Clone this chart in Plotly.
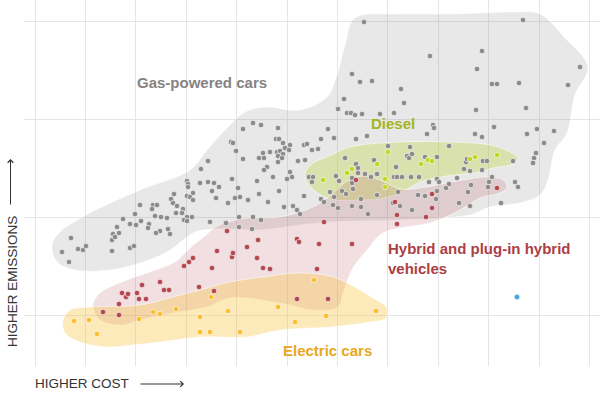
import plotly.graph_objects as go

# ---- data (cost index, emissions index) ----
gas_cost = [27, 34, 36, 43, 48, 51, 77, 77, 78, 80, 82, 84, 88, 95, 101, 106, 114, 113, 95, 99,
            105, 118, 122, 117, 100, 120, 126, 132, 133, 125, 121, 135, 141, 139, 136, 138, 142, 148,
            152, 153, 153, 165, 173, 179, 184, 177, 158, 152, 155, 158, 181, 166, 173, 147, 152, 157,
            149, 152, 175, 191, 193,
            208, 218, 226, 243, 196, 198, 201, 208, 241, 244, 248, 255, 250, 228, 235, 242, 245, 248,
            254, 243, 247, 224, 229, 243, 263, 232, 229, 255, 257, 252, 238, 222, 197, 203, 244, 224,
            200, 205, 213, 233, 204, 218, 226, 204, 217, 249, 258, 262, 265,
            303, 293, 299, 286, 269, 272, 277, 283, 270, 274, 278, 277, 301, 304, 269, 295, 299, 286,
            289, 298, 303, 309, 312, 316, 320, 317, 325, 329, 321, 310, 321, 323, 317, 323, 330, 336,
            342, 317, 307, 311, 318, 326, 317, 326, 333, 337, 327, 345, 359,
            366, 369, 395, 332, 339, 353, 375, 372, 374, 377, 390, 402, 361, 359, 362, 367, 376, 384,
            392, 398, 399, 414, 402, 404, 394, 414, 411, 422, 363, 342, 383, 390, 402, 401, 365, 358,
            377, 424,
            488, 447, 442, 545, 457, 462, 484, 533, 441, 491, 459, 440, 447, 502, 519, 492, 509, 501,
            499, 498, 478, 431, 432, 448, 452, 429, 435, 447, 457, 454, 453, 436, 433, 480, 483, 435,
            466]
gas_emis = [63, 53, 77, 66, 65, 69, 64, 75, 81, 78, 88, 82, 96, 91, 90, 94, 91, 87, 67, 69,
            110, 110, 110, 106, 101, 99, 98, 97, 86, 84, 82, 81, 102, 121, 116, 112, 109, 106,
            134, 131, 128, 132, 133, 132, 128, 124, 122, 119, 118, 115, 117, 146, 154, 102, 98, 98,
            95, 94, 93, 92, 112,
            186, 192, 190, 187, 173, 172, 164, 156, 176, 176, 172, 170, 167, 162, 163, 163, 164, 161,
            165, 159, 157, 157, 157, 153, 154, 148, 145, 143, 138, 136, 138, 134, 136, 127, 124, 121,
            117, 118, 115, 113, 98, 98, 95, 88, 86, 108, 109, 105, 101,
            206, 186, 177, 176, 170, 171, 165, 166, 155, 138, 138, 133, 139, 134, 119, 123, 118, 116,
            113, 110, 107, 216, 202, 202, 200, 241, 233, 293, 176, 157, 151, 147, 137, 142, 141, 138,
            141, 132, 124, 121, 126, 116, 109, 108, 101, 234, 201, 201, 202,
            226, 212, 259, 179, 155, 169, 168, 159, 157, 161, 158, 158, 148, 138, 138, 138, 138, 138,
            181, 190, 187, 169, 136, 133, 133, 131, 127, 137, 123, 120, 120, 119, 124, 116, 109, 112,
            105, 112,
            295, 264, 246, 248, 231, 231, 232, 230, 205, 207, 188, 181, 178, 186, 184, 181, 172, 162,
            157, 152, 154, 153, 156, 154, 154, 146, 144, 145, 138, 133, 128, 130, 123, 133, 128, 109,
            112]

hybrid_cost = [68, 84, 84, 87, 91, 93, 102, 104, 111, 107, 125, 129, 134, 164, 179, 149, 154, 158,
               177, 182, 197, 198, 192, 212, 223, 222, 228, 235, 262, 264, 262, 284, 282, 289, 317,
               293, 321, 360, 362, 362, 391, 397, 397, 462]
hybrid_emis = [3, 11, 0, 22, 18, 21, 22, 16, 16, 30, 33, 25, 25, 28, 24, 49, 53, 57,
               47, 64, 58, 62, 84, 68, 75, 57, 47, 46, 76, 73, 16, 71, 46, 93, 71,
               16, 135, 113, 100, 91, 98, 121, 107, 127]

diesel_cost = [288, 312, 317, 342, 353, 350, 350, 386, 393, 397, 435, 440, 462]
diesel_emis = [135, 142, 146, 151, 163, 136, 128, 151, 155, 154, 156, 158, 160]

electric_cost = [39, 54, 62, 104, 118, 125, 141, 165, 165, 175, 176, 193, 205, 243, 260, 279, 291, 341]
electric_emis = [-6, -5, -19, -4, 3, 1, 6, -2, -17, -17, 18, 4, -17, 8, -7, 35, -1, 4]

other_cost = [482]
other_emis = [18]

# ---- group outlines (same index units) ----
gas_area_cost = [17, 25, 55, 105, 155, 172, 192, 210, 230, 265, 292, 302, 310, 320, 365, 415, 482, 505,
                 530, 553, 540, 532, 520, 513, 505, 485, 455, 435, 405, 365, 295, 265, 225, 178, 160,
                 148, 132, 105, 75, 40, 22]
gas_area_emis = [70, 83, 102, 125, 145, 165, 187, 203, 208, 205, 218, 240, 270, 297, 301, 301, 303, 301,
                 277, 248, 220, 182, 165, 135, 120, 112, 108, 100, 97, 95, 93, 90, 85, 86, 83,
                 75, 63, 52, 45, 45, 53]

hybrid_area_cost = [58, 65, 92, 115, 140, 155, 170, 182, 212, 245, 278, 295, 312, 328, 345, 365, 385, 428,
                    452, 468, 472, 465, 445, 425, 398, 348, 332, 318, 308, 303, 278, 245, 195, 172, 138,
                    105, 88, 65]
hybrid_area_emis = [10, 22, 35, 43, 53, 67, 79, 89, 97, 98, 108, 119, 134, 139, 135, 126, 127, 135,
                    138, 135, 128, 122, 117, 105, 93, 82, 65, 47, 22, 8, 5, 12, 17, 8, 2,
                    -5, -10, -5]

diesel_area_cost = [270, 278, 292, 315, 365, 415, 455, 475, 483, 478, 458, 445, 412, 385, 365, 345, 328,
                    295, 280, 272]
diesel_area_emis = [142, 152, 158, 168, 173, 173, 170, 163, 157, 151, 147, 143, 139, 133, 122, 116, 115,
                    116, 124, 133]

electric_area_cost = [28, 35, 55, 105, 138, 165, 195, 228, 262, 295, 312, 338, 352, 351, 335, 295, 245,
                      212, 165, 125, 98, 72, 45, 30]
electric_area_emis = [-5, 5, 8, 10, 18, 25, 33, 38, 42, 39, 32, 17, 7, -3, -7, -12, -15,
                      -22, -22, -27, -30, -32, -27, -18]

FONT = "Liberation Sans, Arial, sans-serif"

fig = go.Figure()


def area(xs, ys, fill):
    fig.add_trace(go.Scatter(
        x=xs + xs[:1], y=ys + ys[:1], mode="lines", fill="toself",
        fillcolor=fill, line=dict(shape="spline", smoothing=1.0, width=1,
                                  color="rgba(255,255,255,0.55)"),
        hoverinfo="skip", showlegend=False))


area(gas_area_cost, gas_area_emis, "rgba(150,150,150,0.22)")
area(diesel_area_cost, diesel_area_emis, "rgba(190,215,60,0.35)")
area(hybrid_area_cost, hybrid_area_emis, "rgba(180,80,90,0.18)")
area(electric_area_cost, electric_area_emis, "rgba(250,195,60,0.35)")


def dots(xs, ys, color):
    fig.add_trace(go.Scatter(
        x=xs, y=ys, mode="markers",
        marker=dict(size=5.5, color=color, line=dict(width=0.6, color="white")),
        showlegend=False, hoverinfo="skip"))


dots(gas_cost, gas_emis, "rgb(143,138,138)")
dots(hybrid_cost, hybrid_emis, "rgb(180,72,80)")
dots(diesel_cost, diesel_emis, "rgb(192,214,42)")
dots(electric_cost, electric_emis, "rgb(250,190,48)")
dots(other_cost, other_emis, "rgb(64,165,225)")

labels = [
    dict(x=167, y=233, text="Gas-powered cars", color="rgb(135,130,130)", xanchor="center"),
    dict(x=358, y=192, text="Diesel", color="rgb(163,182,30)", xanchor="center"),
    dict(x=351, y=57, text="Hybrid and plug-in hybrid<br>vehicles", color="rgb(172,62,68)", xanchor="left"),
    dict(x=292, y=-35, text="Electric cars", color="rgb(232,168,32)", xanchor="center"),
]
for lb in labels:
    fig.add_annotation(x=lb["x"], y=lb["y"], xref="x", yref="y", text="<b>%s</b>" % lb["text"],
                       showarrow=False, xanchor=lb["xanchor"], yanchor="middle", align="left",
                       font=dict(family=FONT, size=15, color=lb["color"]))

# axis titles with arrows
fig.add_annotation(xref="paper", yref="paper", x=(33 - 24) / 576, y=(366 - 383) / 366,
                   text="HIGHER COST", showarrow=False, xanchor="left", yanchor="middle",
                   font=dict(family=FONT, size=13.5, color="#333"))
fig.add_annotation(xref="paper", yref="paper", x=(184 - 24) / 576, y=(366 - 384) / 366,
                   ax=-45, ay=0, text="", showarrow=True, arrowhead=4, arrowsize=1.1,
                   arrowwidth=1, arrowcolor="#333")
fig.add_annotation(xref="paper", yref="paper", x=(12.5 - 24) / 576, y=(366 - 281.5) / 366,
                   text="HIGHER EMISSIONS", showarrow=False, textangle=-90,
                   xanchor="center", yanchor="middle",
                   font=dict(family=FONT, size=13.5, color="#333"))
fig.add_annotation(xref="paper", yref="paper", x=(10.5 - 24) / 576, y=(366 - 159) / 366,
                   ax=0, ay=47, text="", showarrow=True, arrowhead=4, arrowsize=1.1,
                   arrowwidth=1, arrowcolor="#333")

fig.update_layout(
    width=600, height=399, margin=dict(l=24, r=0, t=0, b=33),
    paper_bgcolor="white", plot_bgcolor="white",
    xaxis=dict(range=[-11, 565], tick0=0, dtick=50.4, showgrid=True, gridcolor="rgb(229,229,229)",
               gridwidth=1, zeroline=False, showticklabels=False, ticks="", showline=False,
               fixedrange=True),
    yaxis=dict(range=[-51, 315], tick0=0, dtick=98, showgrid=True, gridcolor="rgb(229,229,229)",
               gridwidth=1, zeroline=False, showticklabels=False, ticks="", showline=False,
               fixedrange=True),
)

fig.write_html("out.html", config={"displayModeBar": False},
               post_script="document.body.style.margin='0';document.body.style.overflow='hidden';")
